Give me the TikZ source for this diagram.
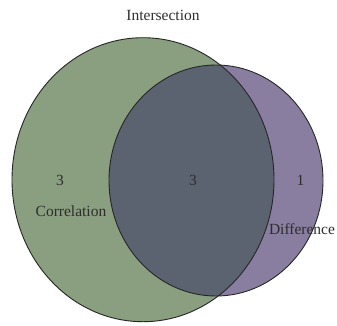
\documentclass[tikz,border=0pt]{standalone}
\usepackage{fontspec}
\setmainfont{Liberation Serif}
\definecolor{corrgreen}{RGB}{138,158,128}
\definecolor{diffpurple}{RGB}{137,126,160}
\definecolor{overlapgray}{RGB}{92,99,112}
\definecolor{labelgray}{RGB}{45,45,45}
\tikzset{
  outline/.style={draw=black!85, line width=0.9pt},
  lbl/.style={text=labelgray, font=\fontsize{15.5}{18}\selectfont, inner sep=0pt},
}
\begin{document}
\begin{tikzpicture}[x=1pt,y=-1pt]
\useasboundingbox (0,0) rectangle (337,325);
% fills
\fill[corrgreen] (143,179.7) ellipse [x radius=131, y radius=142];
\fill[diffpurple] (216,180.5) ellipse [x radius=107, y radius=115.5];
\begin{scope}
  \clip (143,179.7) ellipse [x radius=131, y radius=142];
  \fill[overlapgray] (216,180.5) ellipse [x radius=107, y radius=115.5];
\end{scope}
% outlines
\draw[outline] (143,179.7) ellipse [x radius=131, y radius=142];
\draw[outline] (216,180.5) ellipse [x radius=107, y radius=115.5];
% labels
\node[lbl] (inter) at (163,15) {Intersection};
\node[lbl] (ncorr) at (60,180) {3};
\node[lbl] (nboth) at (193,180) {3};
\node[lbl] (ndiff) at (300.5,180) {1};
\node[lbl] (corr) at (71,211) {Correlation};
\node[lbl] (diff) at (302,229) {Difference};
\end{tikzpicture}
\end{document}
